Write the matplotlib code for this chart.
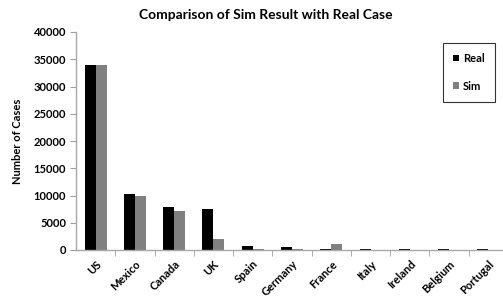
import matplotlib
matplotlib.use("Agg")
import matplotlib.pyplot as plt
import numpy as np
from matplotlib.patches import Patch

countries = ["US", "Mexico", "Canada", "UK", "Spain", "Germany", "France",
             "Italy", "Ireland", "Belgium", "Portugal"]
real = [34000, 10300, 7950, 7550, 780, 560, 200, 170, 150, 150, 150]
sim = [34000, 9950, 7150, 1950, 220, 200, 1050, 0, 0, 0, 0]
yticks = [0, 5000, 10000, 15000, 20000, 25000, 30000, 35000, 40000]

plt.rcParams['font.family'] = ['Lato', 'DejaVu Sans']

fig = plt.figure(figsize=(5.03, 3.04), dpi=100)
L = 76 / 503
R = 508 / 503
B = 1 - 250 / 304
T = 1 - 32 / 304
ax = fig.add_axes([L, B, R - L, T - B])

x = np.arange(len(countries))
w = 0.28
ax.bar(x - w / 2, real, width=w, color="#000000", label="Real")
ax.bar(x + w / 2, sim, width=w, color="#808080", label="Sim")

ax.set_xlim(-0.5, len(countries) - 0.5)
ax.set_ylim(0, 40000)
ax.set_yticks(yticks)
ax.set_yticklabels([str(v) for v in yticks], fontsize=8, fontweight='bold')
ax.set_xticks(x)
ax.set_xticklabels(countries, rotation=45, ha='right', rotation_mode='anchor',
                   fontsize=8, fontweight='bold')
ax.set_xticks(np.arange(len(countries)) + 0.5, minor=True)
ax.tick_params(axis='x', which='major', length=0, pad=6)
ax.tick_params(axis='x', which='minor', length=4, color='#a0a0a0', direction='out')
ax.tick_params(axis='y', length=4, color='#a0a0a0', direction='out', pad=3)

for s in ['top', 'right']:
    ax.spines[s].set_visible(False)
for s in ['left', 'bottom']:
    ax.spines[s].set_color('#a8a8a8')
    ax.spines[s].set_linewidth(1.0)

ax.set_ylabel("Number of Cases", fontsize=8, fontweight='bold', labelpad=8)
fig.text(266 / 503, 1 - 15 / 304, "Comparison of Sim Result with Real Case",
         ha='center', va='center', fontsize=10, fontweight='bold')

handles = [Patch(facecolor="#000000", label="Real"), Patch(facecolor="#808080", label="Sim")]
leg = fig.legend(handles=handles, loc='upper left',
                 bbox_to_anchor=(443 / 503, 1 - 43 / 304),
                 fontsize=8, frameon=True, fancybox=False, edgecolor='black',
                 handlelength=0.55, handleheight=0.55, handletextpad=0.35,
                 labelspacing=1.5, borderpad=0.9, borderaxespad=0)
leg.get_frame().set_linewidth(0.8)
for t in leg.get_texts():
    t.set_fontweight('bold')

fig.savefig("out.png", dpi=100)
